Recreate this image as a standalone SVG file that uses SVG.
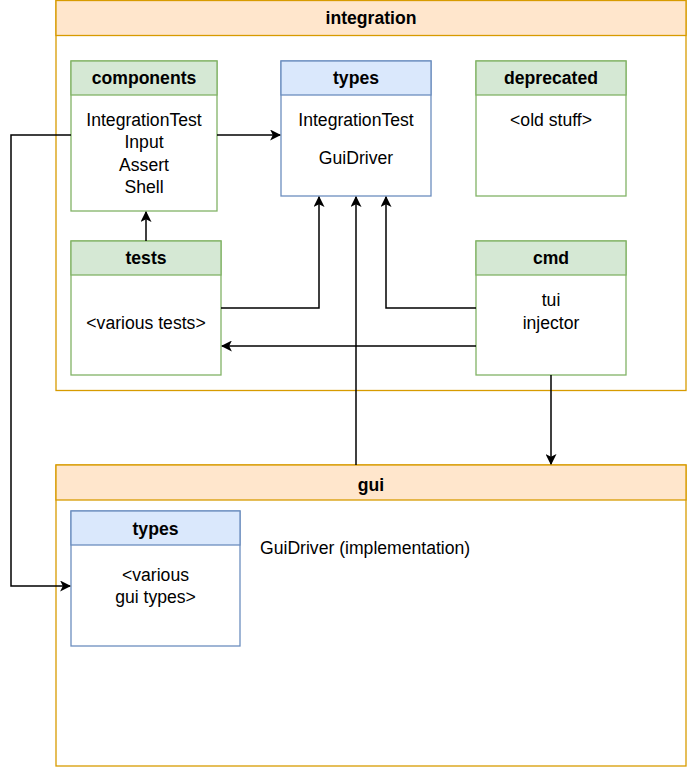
<svg xmlns="http://www.w3.org/2000/svg" width="687" height="767" viewBox="0 0 687 767">
<style>
text{font-family:"Liberation Sans",Arial,Helvetica,sans-serif;font-size:17.6px;fill:#000;text-anchor:middle}
.h{font-weight:bold}
.ob{fill:#ffe6cc;stroke:#d79b00;stroke-width:1.3}
.ow{fill:#fff;stroke:#d79b00;stroke-width:1.3}
.gb{fill:#d5e8d4;stroke:#82b366;stroke-width:1.3}
.gw{fill:#fff;stroke:#82b366;stroke-width:1.3}
.bb{fill:#dae8fc;stroke:#6c8ebf;stroke-width:1.3}
.bw{fill:#fff;stroke:#6c8ebf;stroke-width:1.3}
.c{fill:none;stroke:#000;stroke-width:1.5}
</style>
<defs>
<marker id="a" viewBox="0 0 10 10" refX="9" refY="5" markerWidth="11" markerHeight="11" markerUnits="userSpaceOnUse" orient="auto">
<path d="M0,0 L10,5 L0,10 L2.5,5 Z" fill="#000"/>
</marker>
</defs>
<rect width="687" height="767" fill="#fff"/>
<g id="integration">
<rect class="ow" x="56" y="0.5" width="630" height="390"/>
<rect class="ob" x="56" y="0.5" width="630" height="35"/>
<text class="h" x="371" y="24">integration</text>
</g>
<g id="gui">
<rect class="ow" x="56" y="465" width="630" height="301"/>
<rect class="ob" x="56" y="465" width="630" height="35"/>
<text class="h" x="371" y="491">gui</text>
<text x="260" y="554" style="text-anchor:start">GuiDriver (implementation)</text>
</g>
<g id="components">
<rect class="gw" x="71" y="61" width="146" height="150"/>
<rect class="gb" x="71" y="61" width="146" height="34"/>
<text class="h" x="144" y="84">components</text>
<text x="144" y="126">IntegrationTest</text>
<text x="144" y="148">Input</text>
<text x="144" y="171">Assert</text>
<text x="144" y="193">Shell</text>
</g>
<g id="types">
<rect class="bw" x="281" y="61" width="150" height="135"/>
<rect class="bb" x="281" y="61" width="150" height="34"/>
<text class="h" x="356" y="84">types</text>
<text x="356" y="126">IntegrationTest</text>
<text x="356" y="164">GuiDriver</text>
</g>
<g id="deprecated">
<rect class="gw" x="476" y="61" width="150" height="135"/>
<rect class="gb" x="476" y="61" width="150" height="34"/>
<text class="h" x="551" y="84">deprecated</text>
<text x="551" y="126">&lt;old stuff&gt;</text>
</g>
<g id="tests">
<rect class="gw" x="71" y="241" width="150" height="134"/>
<rect class="gb" x="71" y="241" width="150" height="34"/>
<text class="h" x="146" y="264">tests</text>
<text x="146" y="329">&lt;various tests&gt;</text>
</g>
<g id="cmd">
<rect class="gw" x="476" y="241" width="150" height="134"/>
<rect class="gb" x="476" y="241" width="150" height="34"/>
<text class="h" x="551" y="264">cmd</text>
<text x="551" y="306">tui</text>
<text x="551" y="329">injector</text>
</g>
<g id="gui-types">
<rect class="bw" x="71" y="511" width="169" height="135"/>
<rect class="bb" x="71" y="511" width="169" height="34"/>
<text class="h" x="155.5" y="535">types</text>
<text x="155.5" y="581">&lt;various</text>
<text x="155.5" y="603">gui types&gt;</text>
</g>
<g id="connectors">
<path class="c" d="M217,135 H280" marker-end="url(#a)"/>
<path class="c" d="M146,241 V212" marker-end="url(#a)"/>
<path class="c" d="M221,308 H319 V197" marker-end="url(#a)"/>
<path class="c" d="M476,308 H386 V197" marker-end="url(#a)"/>
<path class="c" d="M476,346 H222" marker-end="url(#a)"/>
<path class="c" d="M356,465 V197" marker-end="url(#a)"/>
<path class="c" d="M551,375 V464" marker-end="url(#a)"/>
<path class="c" d="M71,135 H11 V586 H70" marker-end="url(#a)"/>
</g>
</svg>
